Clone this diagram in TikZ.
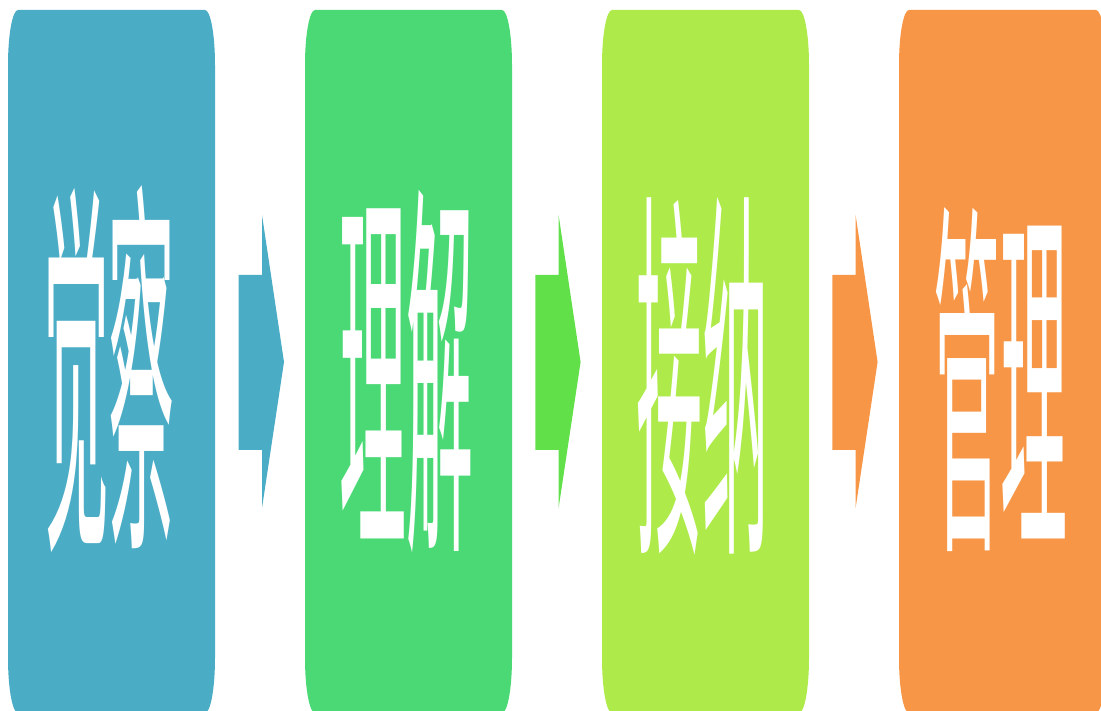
\documentclass[tikz,border=0pt]{standalone}
\usepackage{fontspec}
\usepackage{graphicx}
\newfontfamily\cjk{Noto Sans CJK SC}
\definecolor{cA}{HTML}{4BACC6}
\definecolor{cB}{HTML}{4AD975}
\definecolor{cC}{HTML}{AEEA4A}
\definecolor{cD}{HTML}{F79646}
\definecolor{aB}{HTML}{62E04A}
\newcommand{\stagebox}[3]{% left, right, colour
  \fill[#3] (#1,646) arc[start angle=180,end angle=90,x radius=10,y radius=55]
    -- ({#2-10},701) arc[start angle=90,end angle=0,x radius=10,y radius=55]
    -- (#2,53) arc[start angle=0,end angle=-90,x radius=10,y radius=55]
    -- ({#1+10},-2) arc[start angle=270,end angle=180,x radius=10,y radius=55] -- cycle;}
\newcommand{\blockarrow}[2]{% left x, colour
  \fill[#2] (#1,436) -- ({#1+23.3},436) -- ({#1+23.3},496) -- ({#1+45.3},349)
    -- ({#1+23.3},203) -- ({#1+23.3},261) -- (#1,261) -- cycle;}
\tikzset{stagetext/.style={inner sep=0pt, text=white, font=\cjk}}
\begin{document}
\begin{tikzpicture}[x=1pt,y=1pt]
\useasboundingbox (0,0) rectangle (1101,711);
\stagebox{8}{215}{cA}
\stagebox{305}{512}{cB}
\stagebox{602}{809}{cC}
\stagebox{899}{1106}{cD}
\blockarrow{238.7}{cA}
\blockarrow{535.3}{aB}
\blockarrow{832.3}{cD}
\node[stagetext] (t1) at (109,342) {\resizebox*{132pt}{366pt}{觉察}};
\node[stagetext] (t2) at (406,339) {\resizebox*{134pt}{362pt}{理解}};
\node[stagetext] (t3) at (702,335) {\resizebox*{132pt}{358pt}{接纳}};
\node[stagetext] (t4) at (1000,331) {\resizebox*{134pt}{343pt}{管理}};
\end{tikzpicture}
\end{document}
